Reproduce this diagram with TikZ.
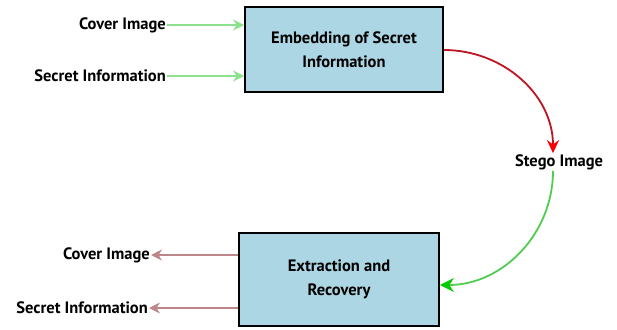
\documentclass[tikz,border=0pt]{standalone}
\usepackage{fontspec}
\setmainfont{PT Sans}
\definecolor{boxblue}{RGB}{172,214,228}
\definecolor{ingreen}{RGB}{140,225,140}
\definecolor{outbrown}{RGB}{190,135,135}
\definecolor{stegored}{RGB}{190,20,35}
\definecolor{stegogreen}{RGB}{80,205,80}
\usetikzlibrary{arrows.meta, positioning}

\begin{document}
\begin{tikzpicture}[x=1pt, y=-1pt,
  font=\fontsize{16.5}{24}\selectfont\bfseries,
  blk/.style={rectangle, draw, line width=1.8pt, fill=boxblue, align=center,
              inner sep=0pt},
  lbl/.style={inner sep=1pt, anchor=east},
  inar/.style={-{Stealth[length=11pt, width=11pt]}, ingreen, line width=1.8pt},
  outar/.style={-{Stealth[length=11pt, width=11pt]}, outbrown, line width=1.8pt}]
\useasboundingbox (0,0) rectangle (617,329);
\node[blk, minimum width=198pt, minimum height=85pt] (embed) at (344,49.5)
  {Embedding of Secret\\Information};
\node[blk, minimum width=200pt, minimum height=93pt] (extract) at (339,279.5)
  {Extraction and\\Recovery};
\node[lbl] (cov1) at (167,25) {Cover Image};
\node[lbl] (sec1) at (167,76) {Secret Information};
\node[lbl] (cov2) at (151,255) {Cover Image};
\node[lbl] (sec2) at (149,308) {Secret Information};
\node[inner sep=1pt] (stego) at (559,162) {Stego Image};
% inputs
\draw[inar](cov1.east)--(cov1.east -| embed.west);
\draw[inar](sec1.east)--(sec1.east -| embed.west);
% outputs
\draw[outar](cov2.east -| extract.west)--(cov2.east);
\draw[outar](sec2.east -| extract.west)--(sec2.east);
% stego loop
\coordinate (redst) at (embed.east |- 0,50);
\coordinate (grnend) at (extract.east |- 0,285);
\draw[stegored, line width=1.8pt, -{Stealth[length=13pt, width=12pt, red]}]
  (redst) to[out=0, in=90] ([xshift=-6pt]stego.north);
\draw[stegogreen, line width=1.8pt, -{Stealth[length=14pt, width=14pt, green!80!black]}]
  ([xshift=-6pt]stego.south) to[out=-90, in=0] (grnend);
\end{tikzpicture}
\end{document}
